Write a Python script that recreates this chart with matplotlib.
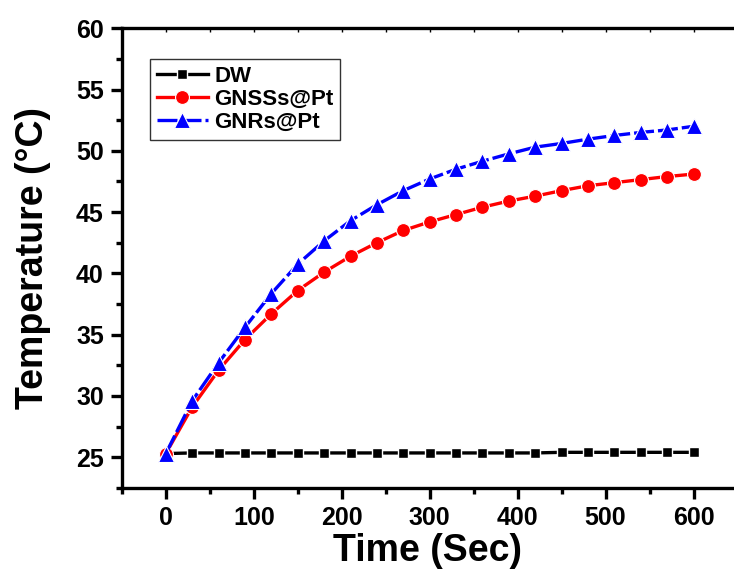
import matplotlib
matplotlib.use("Agg")
import matplotlib.pyplot as plt
from matplotlib.ticker import MultipleLocator

plt.rcParams['font.family'] = ['Liberation Sans', 'DejaVu Sans']
plt.rcParams['font.weight'] = 'bold'

# time points (s)
time = [0, 30, 60, 90, 120, 150, 180, 210, 240, 270, 300,
        330, 360, 390, 420, 450, 480, 510, 540, 570, 600]
dw = [25.3, 25.35, 25.35, 25.35, 25.35, 25.35, 25.35, 25.35, 25.35, 25.35, 25.35,
      25.35, 25.35, 25.35, 25.35, 25.4, 25.4, 25.4, 25.4, 25.4, 25.4]
gnss_pt = [25.3, 29.1, 32.1, 34.6, 36.7, 38.6, 40.1, 41.4, 42.5, 43.5, 44.2,
           44.8, 45.4, 45.9, 46.3, 46.75, 47.15, 47.4, 47.65, 47.9, 48.1]
gnr_pt = [25.3, 29.6, 32.7, 35.6, 38.35, 40.75, 42.65, 44.3, 45.6, 46.75, 47.7,
          48.5, 49.15, 49.75, 50.3, 50.6, 50.95, 51.25, 51.5, 51.7, 52.0]

fig = plt.figure(figsize=(7.34, 5.76), dpi=100)
ax = fig.add_axes([0.166, 0.153, 0.834, 0.798])

ax.plot(time, dw, color='black', lw=2.4, marker='s', ms=7.5,
        mec='white', mew=1.0, label='DW')
ax.plot(time, gnss_pt, color='red', lw=2.4, marker='o', ms=10,
        mec='white', mew=0.8, label='GNSSs@Pt')
ax.plot(time, gnr_pt, color='blue', lw=2.4, ls=(0, (6, 1.2)), marker='^', ms=11,
        mec='white', mew=0.8, label='GNRs@Pt')

ax.set_xlim(-50, 646)
ax.set_ylim(22.5, 60)
ax.xaxis.set_major_locator(MultipleLocator(100))
ax.xaxis.set_minor_locator(MultipleLocator(50))
ax.yaxis.set_major_locator(MultipleLocator(5))
ax.yaxis.set_minor_locator(MultipleLocator(2.5))

for s in ['left', 'bottom', 'top']:
    ax.spines[s].set_linewidth(2.4)
ax.spines['right'].set_visible(False)

ax.tick_params(which='major', direction='out', length=8, width=2.4,
               labelsize=18, pad=5)
ax.tick_params(which='minor', direction='out', length=4, width=2.4)

top = ax.secondary_xaxis('top')
top.xaxis.set_major_locator(MultipleLocator(50))
top.tick_params(direction='in', length=3, width=1, labeltop=False)

for lbl in ax.get_xticklabels() + ax.get_yticklabels():
    lbl.set_fontweight('bold')

ax.set_xlabel('Time (Sec)', fontsize=27, fontweight='bold', labelpad=2)
ax.set_ylabel('Temperature (°C)', fontsize=27, fontweight='bold', labelpad=18)

leg = ax.legend(loc='upper left', bbox_to_anchor=(0.046, 0.933), fontsize=16,
                frameon=True, fancybox=False, edgecolor='black',
                handlelength=2.3, handletextpad=0.3, labelspacing=0.1,
                borderpad=0.3, borderaxespad=0)
leg.get_frame().set_linewidth(1.0)
for t in leg.get_texts():
    t.set_fontweight('bold')

fig.savefig('out.png', dpi=100)
